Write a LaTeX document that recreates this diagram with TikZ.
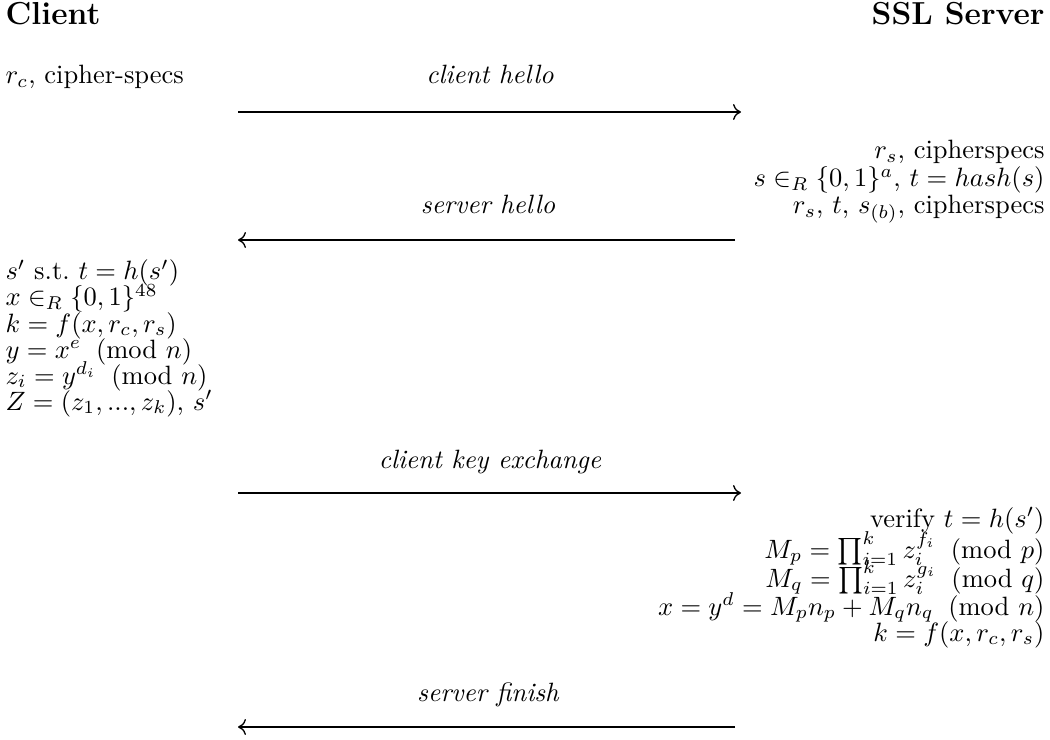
\documentclass[tikz,border=0pt]{standalone}
\usetikzlibrary{arrows.meta}
\newcommand{\mymod}[1]{\mkern10mu(\mathrm{mod}\mkern6mu #1)}
\begin{document}
\begin{tikzpicture}[x=0.3774pt,y=-0.3774pt,
  lft/.style={anchor=base west,inner sep=0pt},
  rgt/.style={anchor=base east,inner sep=0pt},
  lbl/.style={anchor=base,inner sep=0pt,font=\itshape},
  head/.style={inner sep=0pt,font=\large\bfseries},
  msg/.style={line width=0.5pt,-{To[length=3pt,width=6pt]}}]
\useasboundingbox (0,0) rectangle (1050,739);
% headings
\node[head,anchor=base west] (client) at (5,25) {Client};
\node[head,anchor=base east] (server) at (1045,25) {SSL Server};
% client hello
\node[lft] (c0) at (5,84) {$r_c$, cipher-specs};
\node[lbl] (m1) at (490,84) {client hello};
\coordinate (a1s) at (238,112);
\coordinate (a1e) at (741,112);
\draw[msg] (a1s) -- (a1e);
% server
\node[rgt] (s1) at (1045,159) {$r_s$, cipherspecs};
\node[rgt] (s2) at (1045,187) {$s \in_R \{0,1\}^a$, $t = hash(s)$};
\node[rgt] (s3) at (1045,214) {$r_s$, $t$, $s_{(b)}$, cipherspecs};
\node[lbl] (m2) at (488,214) {server hello};
\coordinate (a2s) at (735,240);
\coordinate (a2e) at (238,240);
\draw[msg] (a2s) -- (a2e);
% client computations
\node[lft] (l1) at (5,280) {$s'$ s.t.\ $t = h(s')$};
\node[lft] (l2) at (5,306) {$x \in_R \{0,1\}^{48}$};
\node[lft] (l3) at (5,332) {$k = f(x, r_c, r_s)$};
\node[lft] (l4) at (5,358) {$y = x^e \mymod{n}$};
\node[lft] (l5) at (5,384) {$z_i = y^{d_i} \mymod{n}$};
\node[lft] (l6) at (5,410) {$Z = (z_1, ..., z_k)$, $s'$};
\node[lbl] (m3) at (490,468) {client key exchange};
\coordinate (a3s) at (238,493);
\coordinate (a3e) at (741,493);
\draw[msg] (a3s) -- (a3e);
% server computations
\node[rgt] (r1) at (1045,527) {verify $t = h(s')$};
\node[rgt] (r2) at (1045,558) {$M_p = \prod_{i=1}^k z_i^{f_i} \mymod{p}$};
\node[rgt] (r3) at (1045,587) {$M_q = \prod_{i=1}^k z_i^{g_i} \mymod{q}$};
\node[rgt] (r4) at (1045,615) {$x = y^d = M_p n_p + M_q n_q \mymod{n}$};
\node[rgt] (r5) at (1045,641) {$k = f(x, r_c, r_s)$};
\node[lbl] (m4) at (488,701) {server finish};
\coordinate (a4s) at (735,727);
\coordinate (a4e) at (238,727);
\draw[msg] (a4s) -- (a4e);
\end{tikzpicture}
\end{document}
